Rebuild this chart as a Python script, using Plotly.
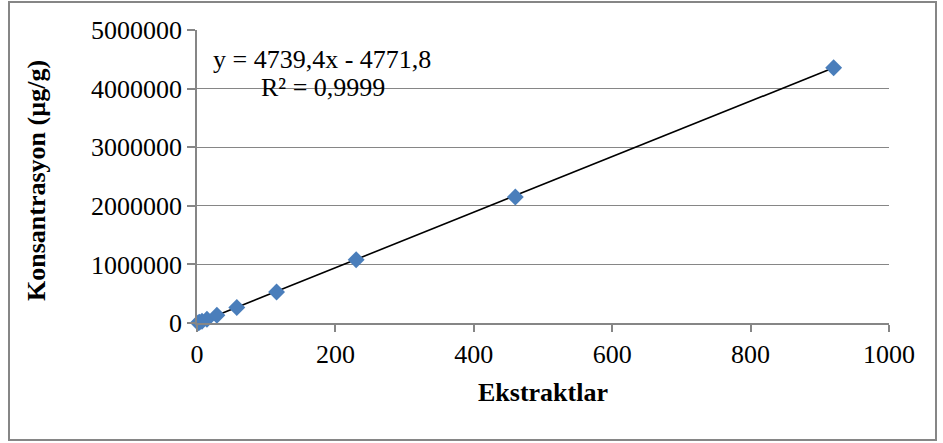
import plotly.graph_objects as go

# Data
ekstraktlar = [1.8, 3.6, 7.2, 14.4, 28.75, 57.5, 115, 230, 460, 920]
konsantrasyon = [4000, 12000, 30000, 63000, 133000, 265000, 530000, 1080000, 2150000, 4355000]
slope = 4739.4
intercept = -4771.8
equation_line = "y = 4739,4x - 4771,8"
r2_line = "R² = 0,9999"
x_title = "Ekstraktlar"
y_title = "Konsantrasyon (µg/g)"
x_ticks = [0, 200, 400, 600, 800, 1000]
y_ticks = [0, 1000000, 2000000, 3000000, 4000000, 5000000]

W, H = 943, 443
L, R, T, B = 197, 54, 30, 120
pw, ph = W - L - R, H - T - B

def px_to_paper_x(px):
    return (px - L) / pw

def py_to_paper_y(py):
    return (H - B - py) / ph

fig = go.Figure()

# Trendline
x0, x1 = min(ekstraktlar), max(ekstraktlar)
fig.add_trace(go.Scatter(
    x=[x0, x1], y=[slope * x0 + intercept, slope * x1 + intercept],
    mode="lines", line=dict(color="black", width=1.6), hoverinfo="skip", showlegend=False))

fig.add_trace(go.Scatter(
    x=ekstraktlar, y=konsantrasyon, mode="markers",
    marker=dict(symbol="diamond", size=13, color="#4a7ebb", line=dict(width=0)),
    showlegend=False, cliponaxis=False))

font_family = "Liberation Serif, Times New Roman, serif"

def text_ann(text, px, py, size, angle=0, bold=False):
    return dict(
        text=f"<b>{text}</b>" if bold else text, xref="paper", yref="paper",
        x=px_to_paper_x(px), y=py_to_paper_y(py), xanchor="center", yanchor="middle",
        showarrow=False, textangle=angle,
        font=dict(family=font_family, size=size, color="black"))

fig.update_layout(
    width=W, height=H,
    margin=dict(l=L, r=R, t=T, b=B),
    paper_bgcolor="white", plot_bgcolor="white",
    font=dict(family=font_family, size=26, color="black"),
    showlegend=False,
    xaxis=dict(
        range=[0, 1000], tickvals=x_ticks, ticktext=[str(v) for v in x_ticks],
        showgrid=False, zeroline=False,
        showline=True, linecolor="#868686", linewidth=1.5,
        ticks="outside", ticklen=7, tickcolor="#868686", tickwidth=1.5,
        tickfont=dict(family=font_family, size=26),
    ),
    yaxis=dict(
        range=[0, 5000000], tickvals=y_ticks, ticktext=[str(v) for v in y_ticks],
        showgrid=True, gridcolor="#868686", gridwidth=1.2,
        zeroline=False,
        showline=True, linecolor="#868686", linewidth=1.5,
        ticks="outside", ticklen=8, tickcolor="#868686", tickwidth=1.5,
        tickfont=dict(family=font_family, size=26),
    ),
    annotations=[
        text_ann(equation_line, 322, 60, 26),
        text_ann(r2_line, 323, 88, 26),
        text_ann(x_title, 543, 392, 26, bold=True),
        text_ann(y_title, 36, 181, 26, angle=-90, bold=True),
    ],
    shapes=[dict(
        type="rect", xref="paper", yref="paper",
        x0=px_to_paper_x(9), x1=px_to_paper_x(936),
        y0=py_to_paper_y(440), y1=py_to_paper_y(2),
        line=dict(color="#868686", width=2), fillcolor="rgba(0,0,0,0)", layer="below",
    )],
)

fig.write_html("out.html", config={"displayModeBar": False},
               post_script="document.body.style.margin='0';document.body.style.padding='0';")
